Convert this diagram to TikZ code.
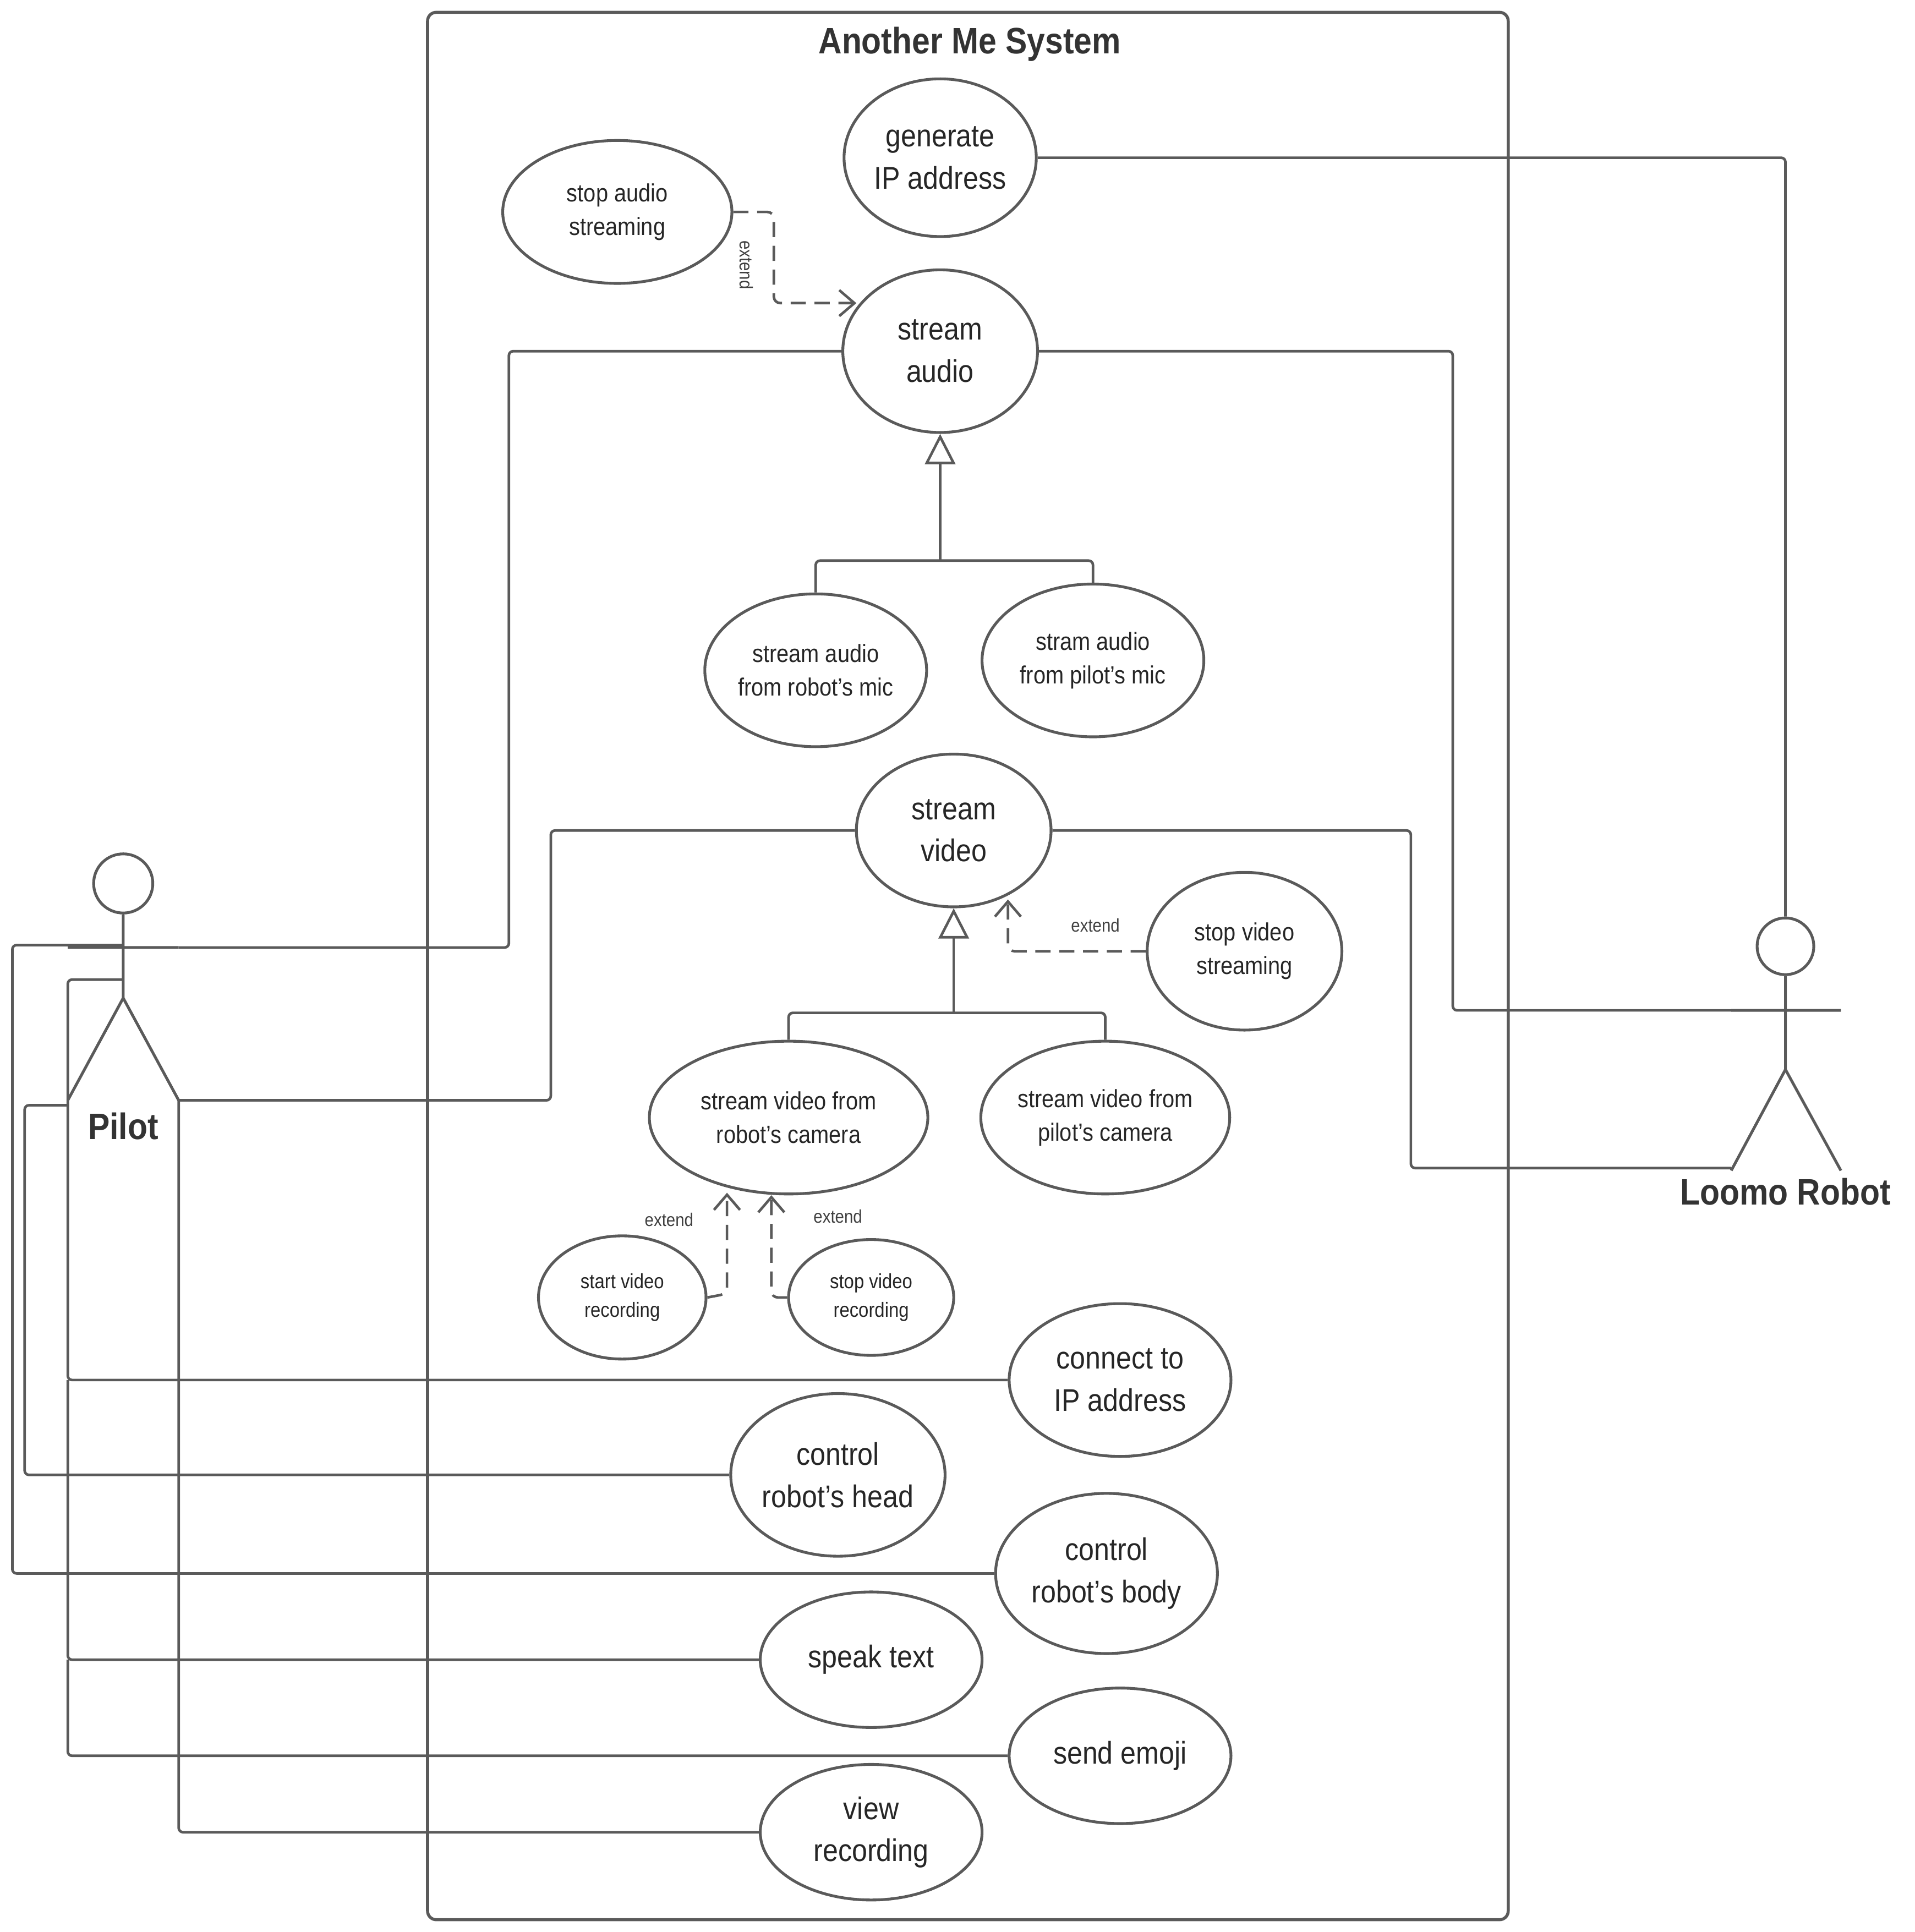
\documentclass[tikz,border=0pt]{standalone}
\usepackage{fontspec}
\setmainfont{Liberation Sans}[FakeStretch=0.88]
\usetikzlibrary{shapes.geometric,arrows.meta}
\definecolor{ln}{HTML}{5A5A5A}
\begin{document}
\begin{tikzpicture}[x=0.02cm,y=-0.02cm,
 uc/.style 2 args={draw=ln,line width=1.3pt,ellipse,inner sep=0pt,align=center,text=black!85,minimum width=#1*0.02cm,minimum height=#2*0.02cm},
 big/.style={font=\fontsize{14.5}{19.5}\selectfont},
 mid/.style={font=\fontsize{11.5}{15.5}\selectfont},
 sm/.style={font=\fontsize{9.5}{13}\selectfont},
 w/.style={draw=ln,line width=1.2pt,rounded corners=2pt},
 ext/.style={draw=ln,line width=1.2pt,dashed,dash pattern=on 7pt off 4pt,-{Straight Barb[length=7pt,width=12pt]}},
 lab/.style={font=\fontsize{8.5}{10}\selectfont,text=black!75},
 gen/.style={draw=ln,line width=1.2pt,-{Triangle[open,length=14pt,width=14pt,fill=white]}}]
\useasboundingbox (0,0) rectangle (1554,1568);
\draw[draw=ln,line width=1.4pt,rounded corners=4pt] (347,10) rectangle (1224,1558);
\node[font=\fontsize{17}{20}\selectfont\bfseries,text=black!80] (title) at (787,36) {Another Me System};
% use cases
\node[uc={156}{128},big] (gip) at (763,128) {generate\\IP address};
\node[uc={186}{116},mid] (sas) at (501,172) {stop audio\\streaming};
\node[uc={158}{132},big] (sa) at (763,285) {stream\\audio};
\node[uc={180}{124},mid] (sarm) at (662,544) {stream audio\\from robot's mic};
\node[uc={180}{124},mid] (sapm) at (887,536) {stram audio\\from pilot's mic};
\node[uc={158}{124},big] (sv) at (774,674) {stream\\video};
\node[uc={158}{128},mid] (svs) at (1010,772) {stop video\\streaming};
\node[uc={226}{124},mid] (svrc) at (640,907) {stream video from\\robot's camera};
\node[uc={202}{124},mid] (svpc) at (897,907) {stream video from\\pilot's camera};
\node[uc={136}{100},sm] (srec) at (505,1053) {start video\\recording};
\node[uc={134}{94},sm] (strec) at (707,1053) {stop video\\recording};
\node[uc={180}{124},big] (cip) at (909,1120) {connect to\\IP address};
\node[uc={168}{132},big] (crh) at (680,1197) {control\\robot's head};
\node[uc={180}{130},big] (crb) at (898,1277) {control\\robot's body};
\node[uc={180}{110},big] (st) at (707,1347) {speak text};
\node[uc={180}{110},big] (se) at (909,1425) {send emoji};
\node[uc={180}{110},big] (vr) at (707,1487) {view\\recording};
% actors
\node[draw=ln,line width=1.3pt,circle,minimum size=48*0.02cm,inner sep=0] (ph) at (100,717) {};
\draw[ln,line width=1.3pt] (ph.south) -- (100,810) (55,769) -- (145,769) (100,810) -- (55,893) (100,810) -- (145,893);
\node[font=\fontsize{17}{20}\selectfont\bfseries,text=black!80] (pl) at (100,914) {Pilot};
\node[draw=ln,line width=1.3pt,circle,minimum size=46*0.02cm,inner sep=0] (rh) at (1449,768) {};
\draw[ln,line width=1.3pt] (rh.south) -- (1449,868) (1405,820) -- (1494,820) (1449,868) -- (1405,950) (1449,868) -- (1494,950);
\node[font=\fontsize{17}{20}\selectfont\bfseries,text=black!80] (rl) at (1449,967) {Loomo Robot};
% robot associations
\draw[w] (gip.east) -| (rh.north);
\draw[w] (sa.east) -- (1179,285) -- (1179,820) -- (1405,820);
\draw[w] (sv.east) -- (1145,674) -- (1145,948) -- (1405,948);
% pilot associations
\draw[w] (145,769) -- (413,769) -- (413,285) -- (sa.west);
\draw[w] (145,893) -- (447,893) -- (447,674) -- (sv.west);
\draw[w] (100,795) -- (55,795) -- (55,1120) -- (cip.west);
\draw[w] (55,1120) -- (55,1347) -- (st.west);
\draw[w] (55,1347) -- (55,1425) -- (se.west);
\draw[w] (55,897) -- (20,897) -- (20,1197) -- (crh.west);
\draw[w] (100,767) -- (10,767) -- (10,1277) -- (crb.west);
\draw[w] (145,893) -- (145,1487) -- (vr.west);
% generalizations
\draw[w] (sarm.north) -- (662,455) -- (887,455) -- (sapm.north);
\draw[gen] (763,455) -- (sa.south);
\draw[w] (svrc.north) -- (640,822) -- (897,822) -- (svpc.north);
\draw[gen] (774,822) -- (sv.south);
% extends
\draw[ext,rounded corners=3pt] (sas.east) -- (628,172) -- (628,246) -- (695,246);
\node[lab,rotate=-90] (l1) at (606,215) {extend};
\draw[ext,rounded corners=3pt] (svs.west) -- (818,772) -- (818,730);
\node[lab] (l2) at (889,751) {extend};
\draw[ext,rounded corners=3pt] (srec.east) -- (590,1050) -- (590,968);
\node[lab] (l3) at (543,990) {extend};
\draw[ext,rounded corners=3pt] (strec.west) -- (626,1053) -- (626,970);
\node[lab] (l4) at (680,987) {extend};
\end{tikzpicture}
\end{document}
